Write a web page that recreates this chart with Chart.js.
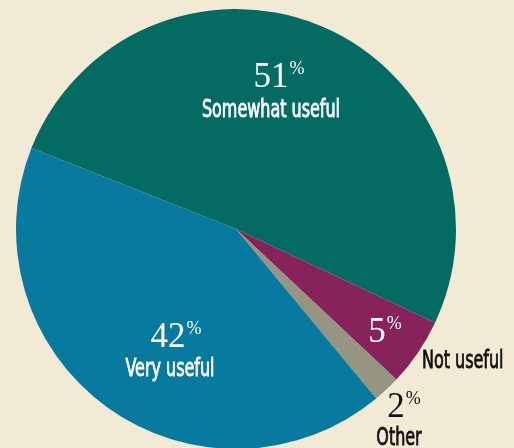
<!DOCTYPE html>
<html>
<head>
<meta charset="utf-8">
<script src="https://cdn.jsdelivr.net/npm/chart.js@4"></script>
<style>
  html, body { margin: 0; padding: 0; background: #f2ead4; overflow: hidden; }
  #wrap { width: 514px; height: 450px; }
</style>
</head>
<body>
<div id="wrap"><canvas id="usefulChart" width="514" height="450"></canvas></div>
<script>
// survey answers, in drawing order (clockwise)
const categories = ['Somewhat useful', 'Not useful', 'Other', 'Very useful'];
const shares = [51, 5, 2, 42];
const sliceColors = ['#046b63', '#87235a', '#969482', '#087aa0'];

// where each slice's label sits, as offsets from the pie centre
const labelSpots = [
    { dx: 35, dy: -142, color: '#fff', textDx: 0, textDy: 30, textAlign: 'center' },
    { dx: 141, dy: 113, color: '#fff', textDx: 45, textDy: 26, textAlign: 'left', textColor: '#111' },
    { dx: 160, dy: 188, color: '#111', textDx: 3, textDy: 28, textAlign: 'center' },
    { dx: -68, dy: 118, color: '#fff', textDx: 2, textDy: 29, textAlign: 'center' }
];

const sliceLabels = {
    id: 'sliceLabels',
    afterDatasetsDraw(chart) {
        const ctx = chart.ctx;
        const arc = chart.getDatasetMeta(0).data[0];
        const cx = arc.x, cy = arc.y;
        ctx.save();
        ctx.textBaseline = 'alphabetic';
        shares.forEach((v, i) => {
            const s = labelSpots[i];
            const x = cx + s.dx, y = cy + s.dy;
            const num = String(v);

            // big serif number with a small raised percent sign
            ctx.fillStyle = s.color;
            ctx.font = '35px "Liberation Serif", "DejaVu Serif", serif';
            ctx.textAlign = 'center';
            ctx.fillText(num, x, y);
            const w = ctx.measureText(num).width;
            ctx.font = '18px "Liberation Serif", "DejaVu Serif", serif';
            ctx.textAlign = 'left';
            ctx.fillText('%', x + w / 2 + 1, y - 13);

            // condensed category name underneath, squeezed narrower and
            // given a thin outline so it reads a little heavier
            ctx.fillStyle = s.textColor || s.color;
            ctx.strokeStyle = ctx.fillStyle;
            ctx.lineWidth = 0.8;
            ctx.font = '24px "DejaVu Sans Condensed", sans-serif';
            ctx.textAlign = s.textAlign;
            ctx.save();
            ctx.translate(x + s.textDx, y + s.textDy);
            ctx.scale(0.74, 1);
            ctx.fillText(categories[i], 0, 0);
            ctx.strokeText(categories[i], 0, 0);
            ctx.restore();
        });
        ctx.restore();
    }
};

new Chart(document.getElementById('usefulChart'), {
    type: 'pie',
    data: {
        labels: categories,
        datasets: [{
            data: shares,
            backgroundColor: sliceColors,
            borderWidth: 0,
            hoverBorderWidth: 0,
            hoverOffset: 0
        }]
    },
    options: {
        responsive: false,
        animation: false,
        rotation: -68.4,
        layout: { padding: { left: 16, right: 58, top: 9, bottom: 1 } },
        plugins: {
            legend: { display: false },
            tooltip: { enabled: false }
        }
    },
    plugins: [sliceLabels]
});
</script>
</body>
</html>
